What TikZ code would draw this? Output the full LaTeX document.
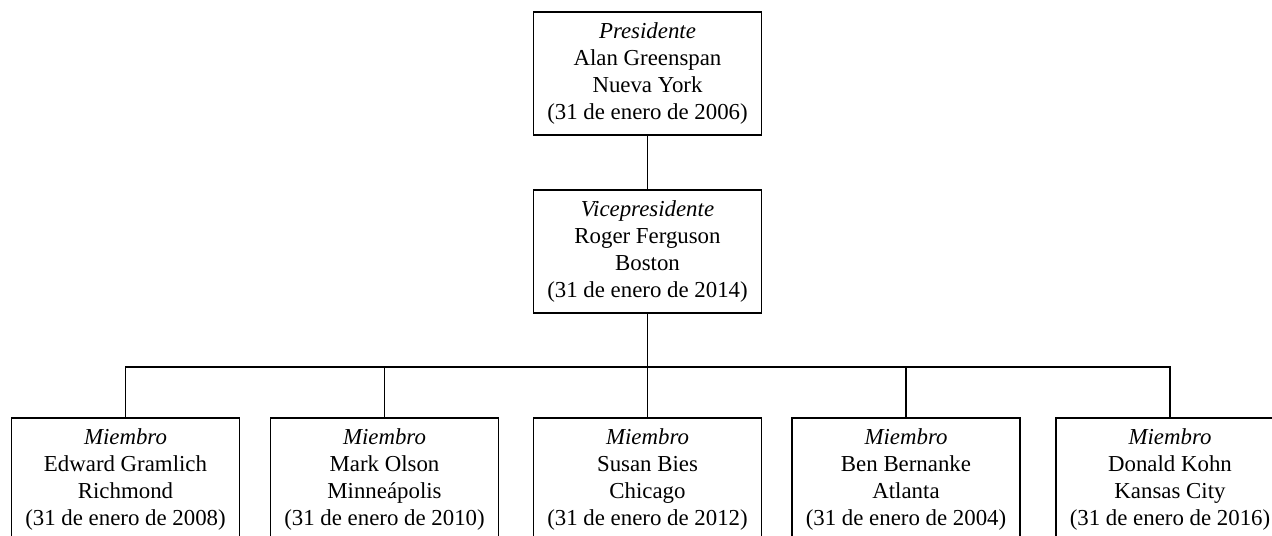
\documentclass[tikz,border=0pt]{standalone}
\usepackage{fontspec}
\setmainfont{Liberation Serif}
\begin{document}
\begin{tikzpicture}[puesto/.style = {draw, line width = 0.6pt, align = center,
      minimum width = 4.56 cm, minimum height = 2.46 cm, inner sep = 0pt,
      font = \fontsize{13}{15.5}\selectfont}]
    \clip (0, 0) rectangle (25.44, 10.7);

    \node[puesto] (pres) at (12.95, 9.23)
      {\textit{Presidente}\\Alan Greenspan\\Nueva York\\(31 de enero de 2006)};
    \node[puesto] (vice) at (12.95, 5.67)
      {\textit{Vicepresidente}\\Roger Ferguson\\Boston\\(31 de enero de 2014)};

    \node[puesto] (m1) at ( 2.51, 1.11)
      {\textit{Miembro}\\Edward Gramlich\\Richmond\\(31 de enero de 2008)};
    \node[puesto] (m2) at ( 7.69, 1.11)
      {\textit{Miembro}\\Mark Olson\\Minneápolis\\(31 de enero de 2010)};
    \node[puesto] (m3) at (12.95, 1.11)
      {\textit{Miembro}\\Susan Bies\\Chicago\\(31 de enero de 2012)};
    \node[puesto] (m4) at (18.12, 1.11)
      {\textit{Miembro}\\Ben Bernanke\\Atlanta\\(31 de enero de 2004)};
    \node[puesto] (m5) at (23.40, 1.11)
      {\textit{Miembro}\\Donald Kohn\\Kansas City\\(31 de enero de 2016)};

    \coordinate (bus) at (12.95, 3.36);

    \draw[line width = 0.6pt] (pres) -- (vice);
    \draw[line width = 0.6pt] (vice) -- (bus);
    \draw[line width = 0.6pt] (m1.north) |- (bus) -| (m5.north);
    \foreach \m in {m2, m3, m4}
      \draw[line width = 0.6pt] (\m.north) -- (\m.north |- bus);
  \end{tikzpicture}
\end{document}
